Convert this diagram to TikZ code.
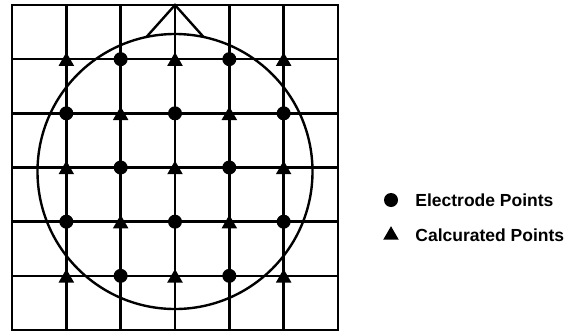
\documentclass[tikz,border=0pt]{standalone}
\usepackage{fontspec}
\setmainfont{Liberation Sans}
\usetikzlibrary{shapes.geometric, positioning, calc}
\tikzstyle{electrode} = [circle, fill=black, inner sep=0pt, minimum size=14pt]
\tikzstyle{calculated} = [regular polygon, regular polygon sides=3, fill=black, inner sep=0pt, minimum size=18pt, yshift=-2.2pt]
\tikzstyle{legendtext} = [anchor=west, inner sep=0pt, font=\fontsize{17.5}{20}\selectfont\bfseries]

\begin{document}
\begin{tikzpicture}[x=1pt, y=-1pt, line width=2.4pt]
    \useasboundingbox (0,0) rectangle (573,335);

    % Grid
    \draw (12,5) rectangle (338,330);
    \foreach \i in {1,...,5} {
        \draw ({12+54.33*\i},5) -- ({12+54.33*\i},330);
        \draw (12,{5+54.17*\i}) -- (338,{5+54.17*\i});
    }

    % Head and nose
    \coordinate (head) at (175,171.5);
    \coordinate (nose-tip) at (175,5);
    \coordinate (nose-left) at ($(head)+(-102:137.5)$);
    \coordinate (nose-right) at ($(head)+(-78:137.5)$);
    \draw (head) circle (137.5);
    \draw (nose-left) -- (nose-tip) -- (nose-right);

    % Nodes
    \foreach \i in {1,...,5} {
        \foreach \j in {1,...,5} {
            \pgfmathtruncatemacro{\kind}{mod(\i+\j,2)}
            \ifnum\kind=1
                \node (p-\i-\j) [electrode] at ({12+54.33*\i},{5+54.17*\j}) {};
            \else
                \node (p-\i-\j) [calculated] at ({12+54.33*\i},{5+54.17*\j}) {};
            \fi
        }
    }

    % Legend
    \node (key-e) [electrode] at (391,200) {};
    \node (key-e-label) [legendtext, right=15pt of key-e] {Electrode Points};
    \node (key-c) [calculated] at (391,233) {};
    \node (key-c-label) [legendtext] at (key-e-label.west |- key-c) {Calcurated Points};

\end{tikzpicture}
\end{document}
